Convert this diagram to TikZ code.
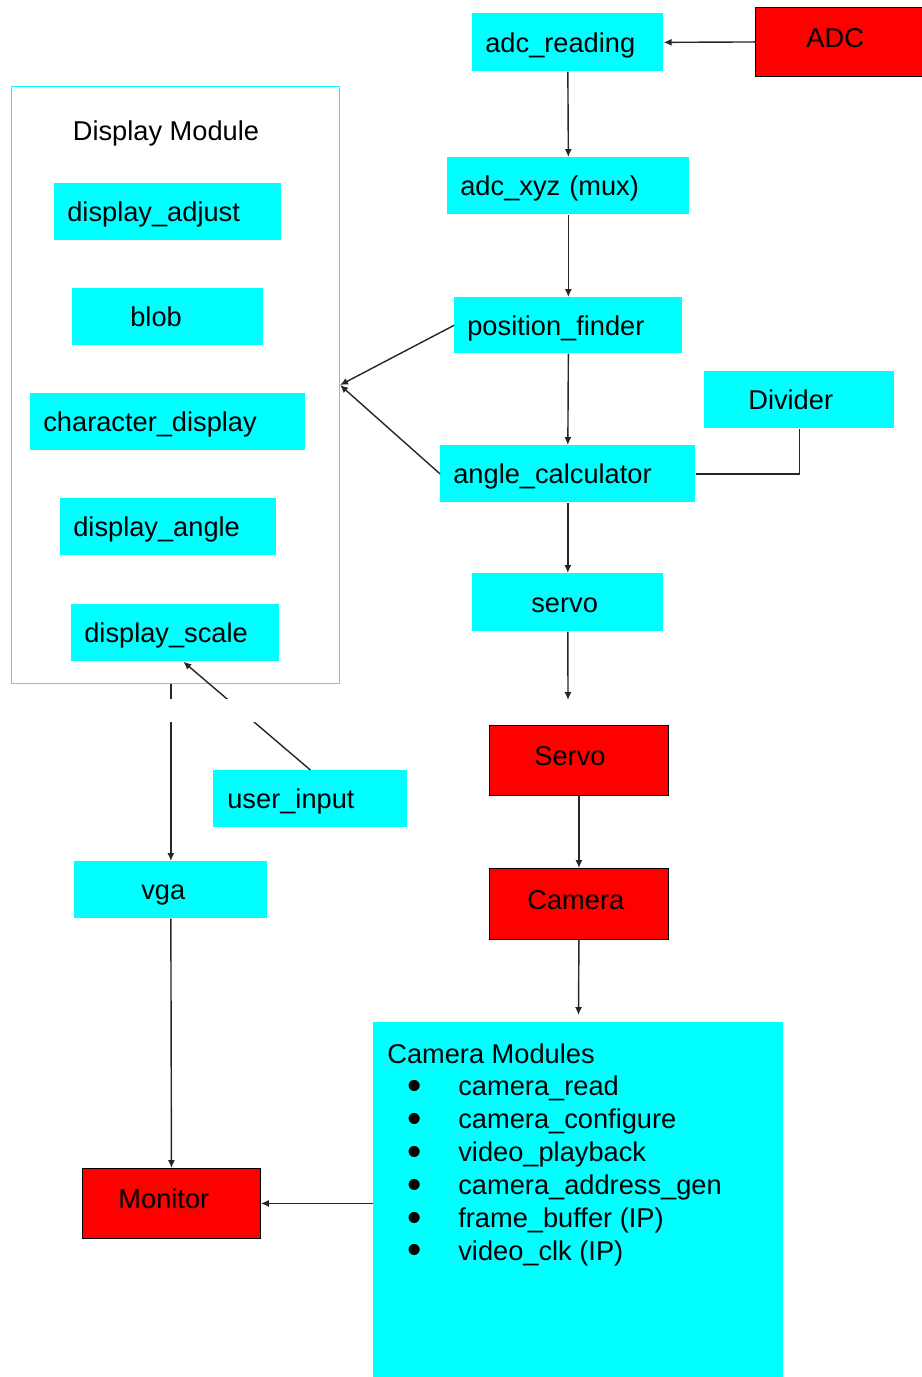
\documentclass[tikz,border=0pt]{standalone}
\usepackage{fontspec}
\setmainfont{Liberation Sans}
\usepackage{xcolor}
\usepackage{tikz}
\usetikzlibrary{arrows.meta}

\definecolor{boxcyan}{HTML}{00FFFF}
\definecolor{boxred}{HTML}{FF0000}
\newlength{\unitpx}
\setlength{\unitpx}{0.02cm}
\newcommand{\listdot}{\raisebox{-2.1pt}{\scalebox{1.5}{\textbullet}}}

\tikzstyle{module} = [
    rectangle,
    fill=boxcyan,
    anchor=north west,
    inner xsep=13*\unitpx,
    inner ysep=0pt,
    % text left in the box
    align=left,
    text height=14pt,
    text depth=2.6pt,
    minimum height=57*\unitpx
    ]
\tikzstyle{listbox} = [
    rectangle,
    fill=boxcyan,
    anchor=north west,
    inner sep=0pt
    ]
\tikzstyle{device} = [
    rectangle,
    fill=boxred,
    draw=black,
    line width=0.5pt,
    anchor=north west,
    inner ysep=0pt,
    align=left,
    text height=11pt,
    text depth=5pt,
    minimum height=70*\unitpx
    ]
\tikzstyle{frame} = [
    rectangle,
    draw=boxcyan,
    line width=0.6pt,
    anchor=north west,
    inner sep=0pt
    ]
\tikzstyle{arr} = [-{Latex[length=4.5pt,width=4pt]}, line width=0.8pt, black!85]
\tikzstyle{line} = [line width=0.8pt, black!85]

\begin{document}
\begin{tikzpicture}[x=0.02cm, y=-0.02cm, font=\fontsize{15.5}{18.7}\selectfont]
        \useasboundingbox (0,0) rectangle (922,1377);

        % Display Module
        \node (dispframe) [frame, minimum width=328*\unitpx, minimum height=597*\unitpx] at (11,86) {};
        \node (disptitle) at (166,133) {Display Module};
        \node (dadjust) [module, text width=201*\unitpx] at (54,183) {display\_adjust};
        \node (blob) [module, inner xsep=58*\unitpx, text width=75*\unitpx] at (72,288) {blob};
        \node (chardisp) [module, text width=249*\unitpx] at (30,393) {character\_display};
        \node (dangle) [module, text width=190*\unitpx] at (60,498) {display\_angle};
        \node (dscale) [module, text width=182*\unitpx] at (71,604) {display\_scale};

        \node (userin) [module, inner xsep=14*\unitpx, text width=166*\unitpx] at (213,770) {user\_input};
        \node (vga) [module, inner xsep=67*\unitpx, text width=59*\unitpx] at (74,861) {vga};
        \node (monitor) [device, inner xsep=36*\unitpx, text width=106*\unitpx] at (82,1168) {Monitor};

        % main chain
        \node (adcread) [module, text width=165*\unitpx, minimum height=58*\unitpx] at (472,13) {adc\_reading};
        \node (adc) [device, inner xsep=51*\unitpx, text width=65*\unitpx, minimum height=69*\unitpx] at (755,7) {ADC};
        \node (adcxyz) [module, text width=216*\unitpx] at (447,157) {adc\_xyz (mux)};
        \node (posfind) [module, text width=202*\unitpx, minimum height=56*\unitpx] at (454,297) {position\_finder};
        \node (divider) [module, inner xsep=44*\unitpx, text width=102*\unitpx] at (704,371) {Divider};
        \node (anglecalc) [module, text width=229*\unitpx] at (440,445) {angle\_calculator};
        \node (servo) [module, inner xsep=59*\unitpx, text width=73*\unitpx, minimum height=58*\unitpx] at (472,573) {servo};
        \node (servodev) [device, inner xsep=45*\unitpx, text width=89*\unitpx] at (489,725) {Servo};
        \node (camera) [device, inner xsep=38*\unitpx, text width=103*\unitpx, minimum height=71*\unitpx] at (489,868) {Camera};
        \node (cammods) [listbox] at (373,1022) {\parbox[c][355\unitpx][t]{410\unitpx}{%
            \vspace*{21\unitpx}%
            \hspace*{14\unitpx}Camera Modules\\
            \hspace*{34\unitpx}\makebox[51\unitpx][l]{\listdot}camera\_read\\
            \hspace*{34\unitpx}\makebox[51\unitpx][l]{\listdot}camera\_configure\\
            \hspace*{34\unitpx}\makebox[51\unitpx][l]{\listdot}video\_playback\\
            \hspace*{34\unitpx}\makebox[51\unitpx][l]{\listdot}camera\_address\_gen\\
            \hspace*{34\unitpx}\makebox[51\unitpx][l]{\listdot}frame\_buffer (IP)\\
            \hspace*{34\unitpx}\makebox[51\unitpx][l]{\listdot}video\_clk (IP)}};

        \coordinate (servoend) at (568,700);
        \coordinate (camend) at (578.5,1015);

        % Lines
        \draw[arr] (adc.west) -- (adcread.east);
        \draw[arr] (adcread.south) -- (adcxyz.north);
        \draw[arr] (adcxyz.south) -- (posfind.north);
        \draw[arr] (posfind.south) -- (anglecalc.north);
        \draw[arr] (anglecalc.south) -- (servo.north);
        \draw[arr] (servo.south) -- (servoend);
        \draw[arr] (servodev.south) -- (camera.north);
        \draw[arr] (camera.south) -- (camend);
        \draw[arr] (cammods.west |- monitor.east) -- (monitor.east);
        \draw[arr] (vga.south) -- (monitor.north);
        \draw[line] (divider.south) |- (anglecalc.east);
        \draw[arr] (posfind.west) -- (dispframe.east);
        \draw[arr] (anglecalc.west) -- (dispframe.east);
        \draw[arr] (vga.north |- dispframe.south) -- (vga.north);
        \draw[arr] (userin.north) -- ([xshift=8*\unitpx]dscale.south);

        % gap in the two lines below the frame
        \fill[white] (150,699) rectangle (330,722);
    \end{tikzpicture}
\end{document}
